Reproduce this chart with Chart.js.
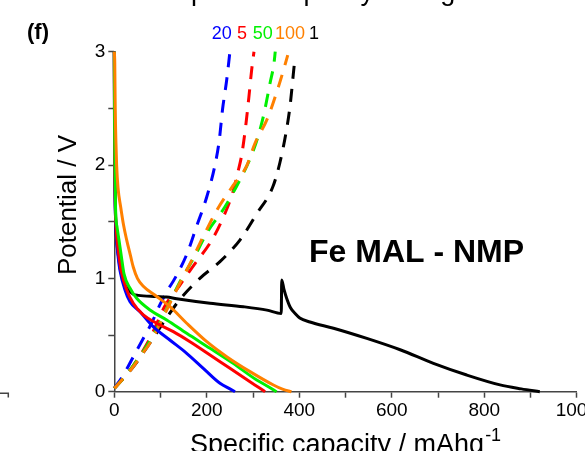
<!DOCTYPE html>
<html>
<head>
<meta charset="utf-8">
<script src="https://cdn.jsdelivr.net/npm/chart.js@4"></script>
<style>
  html, body { margin: 0; padding: 0; background: #fff; overflow: hidden; }
  #wrap { width: 585px; height: 451px; }
</style>
</head>
<body>
<div id="wrap"><canvas id="myChart" width="585" height="451"></canvas></div>
<script>
// rates shown at the top, in the order they are printed
const rateLabels = ['20', '5', '50', '100', '1'];
const rateColors = ['#0000ff', '#ff0000', '#00f000', '#ff8000', '#000000'];

// discharge curves (solid) - capacity mAh/g, potential V
const dis1Cap = [0, 0.6, 1.8, 3.5, 6, 9, 13, 20, 30, 41, 52, 90, 113, 135, 207, 279, 330, 361, 362, 367, 373, 381, 391, 401, 423, 474, 546, 618, 690, 762, 834, 880, 920];
const dis1V   = [3, 2.2, 1.7, 1.45, 1.3, 1.2, 1.08, 0.97, 0.9, 0.86, 0.85, 0.84, 0.835, 0.82, 0.78, 0.75, 0.72, 0.69, 0.985, 0.9, 0.82, 0.74, 0.69, 0.65, 0.615, 0.56, 0.47, 0.37, 0.25, 0.147, 0.06, 0.025, 0];

const dis20Cap = [0, 0.5, 1.5, 3, 5, 8, 12.3, 23, 34, 55.6, 84, 120, 156.5, 192.4, 228.5, 250, 261];
const dis20V   = [3, 2.2, 1.75, 1.5, 1.34, 1.2, 1.07, 0.9, 0.794, 0.706, 0.574, 0.456, 0.339, 0.206, 0.074, 0.025, 0];

const dis5Cap = [0, 0.7, 2, 4, 7, 10, 14.8, 26.8, 41, 62.7, 91.7, 127.6, 163.7, 207, 250, 293.4, 315, 326];
const dis5V   = [3, 2.2, 1.7, 1.45, 1.3, 1.2, 1.07, 0.9, 0.78, 0.677, 0.604, 0.53, 0.441, 0.324, 0.206, 0.088, 0.03, 0];

const dis50Cap = [0, 1, 2.6, 6, 10, 15, 21, 34, 48.4, 77.2, 113.3, 156.5, 207, 257, 308, 335, 351];
const dis50V   = [3, 2.2, 1.63, 1.45, 1.34, 1.2, 1.04, 0.913, 0.824, 0.721, 0.633, 0.515, 0.383, 0.25, 0.103, 0.04, 0];

const dis100Cap = [0, 1, 2, 3.5, 5, 8, 13.8, 20, 26.7, 35, 41, 50, 62.7, 91.7, 120.4, 156.5, 200, 243, 293.4, 344, 365, 383];
const dis100V   = [3, 2.9, 2.5, 2.2, 2.0, 1.8, 1.63, 1.47, 1.34, 1.2, 1.1, 1.0, 0.93, 0.84, 0.75, 0.604, 0.441, 0.309, 0.177, 0.059, 0.02, 0];

// charge curves (dashed)
const chg1Cap = [0, 20, 41, 77, 110, 142, 185, 229, 272, 308, 343, 358, 371, 380, 387, 390];
const chg1V   = [0.03, 0.12, 0.22, 0.43, 0.633, 0.815, 1.0, 1.15, 1.34, 1.57, 1.81, 2.02, 2.28, 2.52, 2.8, 2.92];

const chg20Cap = [0, 20, 40, 60, 80, 99, 113, 131, 156.5, 178, 200, 217.7, 227, 234, 243, 250];
const chg20V   = [0.03, 0.15, 0.3, 0.45, 0.6, 0.77, 0.88, 1.0, 1.21, 1.46, 1.72, 2.0, 2.22, 2.49, 2.75, 3.0];

const chg5Cap = [0, 20, 41, 77, 110, 140, 164, 174.5, 212, 241, 257, 268, 275.5, 284, 291, 297, 302];
const chg5V   = [0.03, 0.12, 0.23, 0.47, 0.76, 0.93, 1.07, 1.13, 1.345, 1.59, 1.77, 1.95, 2.09, 2.34, 2.6, 2.84, 3.0];

const chg50Cap = [0, 20, 41, 77, 106, 142, 174.5, 200, 239, 275.5, 297, 310, 324, 336.6, 345, 348];
const chg50V   = [0.03, 0.12, 0.23, 0.45, 0.67, 0.97, 1.2, 1.4, 1.63, 1.9, 2.09, 2.24, 2.46, 2.72, 2.89, 3.0];

const chg100Cap = [0, 20, 41, 60, 77.2, 106, 142, 163.7, 192.4, 221.4, 257, 286, 304, 331, 352.5, 366, 375];
const chg100V   = [0.03, 0.12, 0.22, 0.33, 0.43, 0.66, 0.96, 1.13, 1.37, 1.6, 1.82, 1.99, 2.19, 2.41, 2.66, 2.84, 2.97];

const xTicks = [0, 200, 400, 600, 800, 1000];
const yTicks = [0, 1, 2, 3];

function pts(xs, ys) {
  return xs.map((x, i) => ({x: x, y: ys[i]}));
}

function curve(xs, ys, color, dashed) {
  return {
    data: pts(xs, ys),
    borderColor: color,
    borderWidth: 3,
    borderDash: dashed ? [13, 10] : [],
    pointRadius: 0,
    fill: false,
    cubicInterpolationMode: 'monotone',
    clip: false
  };
}

const FONT = 'Arial, "Liberation Sans", sans-serif';

// all the printed text round the plot
const textPlugin = {
  id: 'texts',
  afterDraw(chart) {
    const ctx = chart.ctx;
    ctx.save();
    ctx.fillStyle = '#000';
    ctx.textBaseline = 'alphabetic';
    ctx.textAlign = 'left';

    // cut-off heading at the very top
    ctx.font = '27px ' + FONT;
    ctx.fillText('Specific capacity change', 173, -0.5);

    ctx.font = 'bold 22px ' + FONT;
    ctx.fillText('(f)', 27, 39);

    // rate labels
    ctx.font = '18px ' + FONT;
    const lx = [211.7, 237, 252.7, 275, 309];
    rateLabels.forEach((t, i) => {
      ctx.fillStyle = rateColors[i];
      ctx.fillText(t, lx[i], 38.5);
    });

    ctx.fillStyle = '#000';
    ctx.font = 'bold 32px ' + FONT;
    ctx.fillText('Fe MAL - NMP', 309, 262);

    // x title with superscript
    ctx.font = '27px ' + FONT;
    const xt = 'Specific capacity / mAhg';
    ctx.fillText(xt, 190, 452.5);
    const w = ctx.measureText(xt).width;
    ctx.font = '18px ' + FONT;
    ctx.fillText('-1', 190 + w + 1, 441);

    // y title
    ctx.save();
    ctx.translate(69, 205);
    ctx.rotate(-Math.PI / 2);
    ctx.textAlign = 'center';
    ctx.textBaseline = 'middle';
    ctx.font = '26px ' + FONT;
    ctx.fillText('Potential / V', 0, 0);
    ctx.restore();

    // corner of the neighbouring panel
    ctx.strokeStyle = '#444';
    ctx.lineWidth = 1.5;
    ctx.beginPath();
    ctx.moveTo(0, 393.3);
    ctx.lineTo(8.3, 393.3);
    ctx.lineTo(8.3, 397.5);
    ctx.stroke();
    ctx.restore();
  }
};

const ctx = document.getElementById('myChart');

new Chart(ctx, {
  type: 'line',
  data: {
    datasets: [
      curve(dis100Cap, dis100V, rateColors[3], false),
      curve(dis50Cap, dis50V, rateColors[2], false),
      curve(dis5Cap, dis5V, rateColors[1], false),
      curve(dis20Cap, dis20V, rateColors[0], false),
      curve(dis1Cap, dis1V, rateColors[4], false),
      curve(chg100Cap, chg100V, rateColors[3], true),
      curve(chg50Cap, chg50V, rateColors[2], true),
      curve(chg5Cap, chg5V, rateColors[1], true),
      curve(chg20Cap, chg20V, rateColors[0], true),
      curve(chg1Cap, chg1V, rateColors[4], true)
    ]
  },
  options: {
    responsive: false,
    animation: false,
    layout: { padding: { left: 0, top: 51.7, right: 8.2, bottom: 0 } },
    plugins: {
      legend: { display: false },
      tooltip: { enabled: false },
      title: { display: false }
    },
    scales: {
      x: {
        type: 'linear',
        min: 0,
        max: 1000,
        afterFit: (s) => { s.height = 59.3; s.paddingLeft = 0; s.paddingRight = 0; },
        grid: { drawOnChartArea: false, drawTicks: true, tickLength: 6, color: '#444', tickWidth: 1.5 },
        border: { display: true, color: '#444', width: 1.5 },
        ticks: {
          stepSize: 100,
          autoSkip: false,
          maxRotation: 0,
          padding: 2,
          color: '#000',
          font: { family: FONT, size: 19 },
          callback: (v) => xTicks.includes(v) ? String(v) : ''
        }
      },
      y: {
        type: 'linear',
        min: 0,
        max: 3,
        afterFit: (s) => { s.width = 114.3; s.paddingTop = 0; s.paddingBottom = 0; },
        grid: { drawOnChartArea: false, drawTicks: true, tickLength: 6, color: '#444', tickWidth: 1.5 },
        border: { display: true, color: '#444', width: 1.5 },
        ticks: {
          stepSize: 0.5,
          autoSkip: false,
          padding: 3,
          color: '#000',
          font: { family: FONT, size: 19 },
          callback: (v) => yTicks.includes(v) ? String(v) : ''
        }
      }
    }
  },
  plugins: [textPlugin]
});
</script>
</body>
</html>
